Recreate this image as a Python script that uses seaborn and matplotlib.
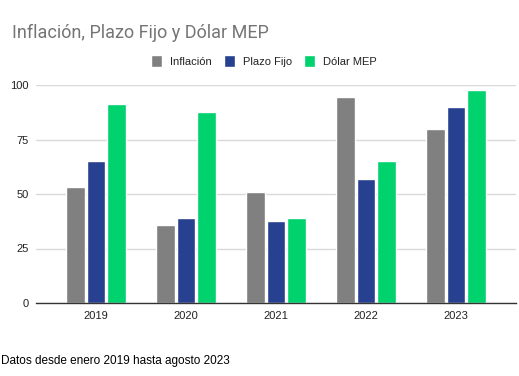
import matplotlib
matplotlib.use("Agg")
import matplotlib.pyplot as plt
import seaborn as sns
import pandas as pd

# ---- Data -------------------------------------------####
years = ['2019', '2020', '2021', '2022', '2023']
inflacion = [53.1, 35.6, 50.8, 94.7, 80.0]
plazo_fijo = [65.2, 39.2, 37.7, 56.9, 89.8]
dolar_mep = [91.3, 87.8, 38.9, 65.2, 97.7]
series_names = ['Inflación', 'Plazo Fijo', 'Dólar MEP']
colors = ['#808080', '#27408f', '#00d26e']

df = pd.DataFrame({'year': years, 'Inflación': inflacion,
                   'Plazo Fijo': plazo_fijo, 'Dólar MEP': dolar_mep})
df_long = df.melt(id_vars='year', var_name='serie', value_name='valor')

# ---- Plot -------------------------------------------####
sns.set_style('white')
plt.rcParams['font.family'] = ['Liberation Sans', 'DejaVu Sans']

fig = plt.figure(figsize=(5.19, 3.76), dpi=100)
ax = fig.add_axes([36 / 519, 1 - 303 / 376, 480 / 519, 218 / 376])

sns.barplot(data=df_long, x='year', y='valor', hue='serie', hue_order=series_names,
            palette=colors, width=0.68, gap=0.1, saturation=1, ax=ax)

ax.set_ylim(0, 100)
ax.set_xlim(-0.667, 4.667)
ax.set_yticks([0, 25, 50, 75, 100])
ax.set_xlabel('')
ax.set_ylabel('')
ax.grid(axis='y', color='#d9d9d9', linewidth=1)
ax.set_axisbelow(True)
for s in ['top', 'right', 'left']:
    ax.spines[s].set_visible(False)
ax.spines['bottom'].set_color('#333333')
ax.spines['bottom'].set_linewidth(1)
ax.tick_params(axis='both', length=0, labelsize=8, colors='#222222', pad=6)
ax.tick_params(axis='y', pad=5)

handles, labels = ax.get_legend_handles_labels()
ax.legend(handles, labels, loc='center', bbox_to_anchor=(0.475, (376 - 61 - 73) / 218),
          ncol=3, frameon=False, fontsize=8, handlelength=1.0, handleheight=1.25,
          handletextpad=0.7, columnspacing=1.1, labelcolor='#222222')

fig.text(12 / 519, 1 - 33 / 376, 'Inflación, Plazo Fijo y Dólar MEP', fontsize=13,
         color='#757575', va='center', ha='left', family=['Roboto', 'DejaVu Sans'])
fig.text(1 / 519, 1 - 361 / 376, 'Datos desde enero 2019 hasta agosto 2023', fontsize=8.5,
         color='#000000', va='center', ha='left')

plt.savefig('out.png', dpi=100)
